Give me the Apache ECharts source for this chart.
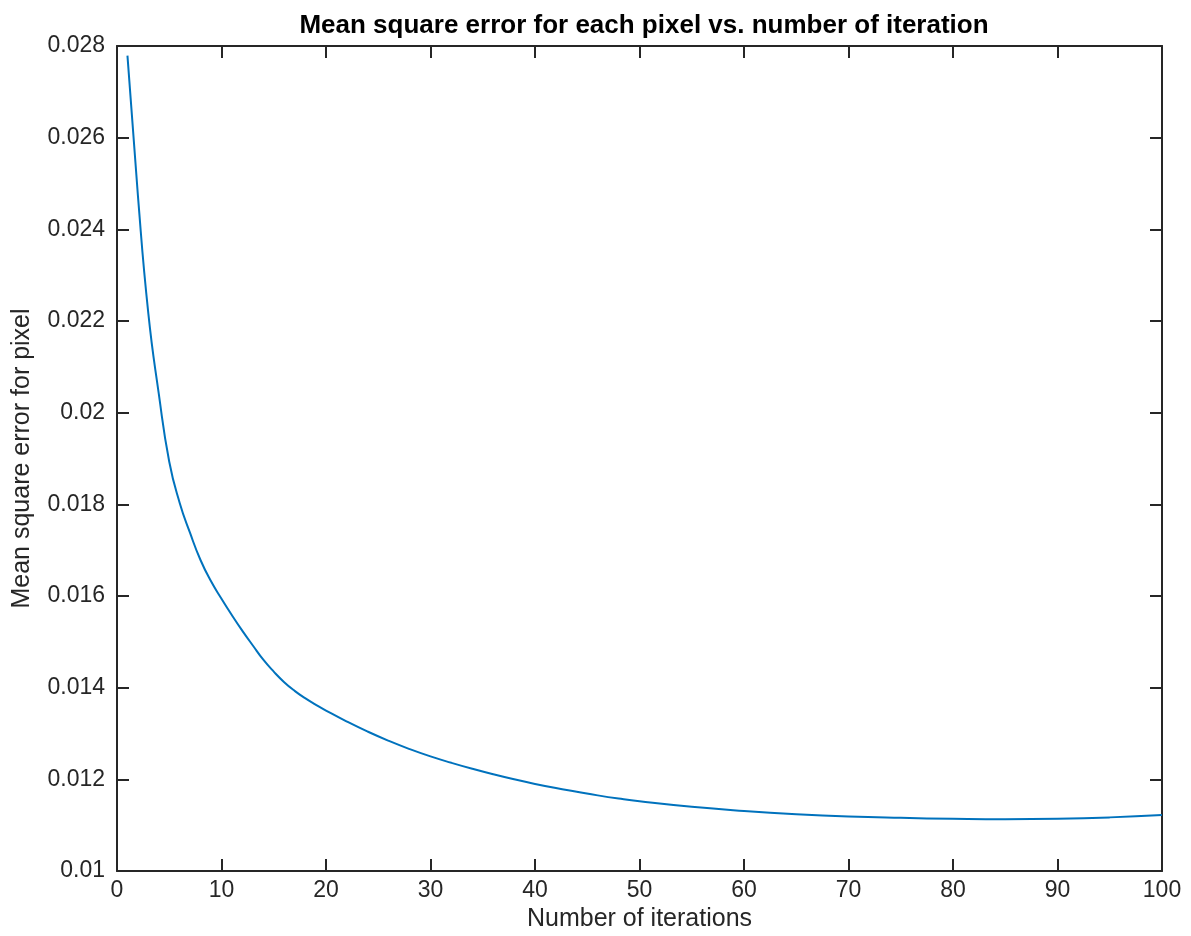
<!DOCTYPE html>
<html>
<head>
<meta charset="utf-8">
<title>Mean square error</title>
<script src="https://cdn.jsdelivr.net/npm/echarts@6/dist/echarts.min.js"></script>
<style>
  html, body { margin: 0; padding: 0; background: #fff; }
  #chart { width: 1191px; height: 936px; }
</style>
</head>
<body>
<div id="chart"></div>
<script>
// iteration numbers and the error
const iterations = [1, 2, 3, 4, 5, 6, 7, 8, 9, 10,
  11, 12, 13, 14, 15, 16, 17, 18, 19, 20,
  22, 24, 26, 28, 30, 32, 34, 36, 38, 40,
  42, 44, 46, 48, 50, 55, 60, 65, 70, 75,
  80, 85, 90, 95, 100];
const mse = [0.02779, 0.02474, 0.02216, 0.02041, 0.01893, 0.01803, 0.01737, 0.01678, 0.01632, 0.01594,
  0.01558, 0.01524, 0.01492, 0.01461, 0.01435, 0.01412, 0.01393, 0.01377, 0.01363, 0.01350,
  0.01326, 0.01304, 0.01284, 0.01266, 0.01250, 0.01236, 0.01223, 0.01211, 0.01200, 0.01190,
  0.01181, 0.01173, 0.01165, 0.01158, 0.01152, 0.01140, 0.01131, 0.01124, 0.01119, 0.01116,
  0.01114, 0.01113, 0.01114, 0.01117, 0.01122];
const xTicks = [0, 100, 10];
const yTicks = [0.01, 0.028, 0.002];

const axisColor = "#262626";
const fontFamily = "Liberation Sans, Arial, Helvetica, sans-serif";

const chart = echarts.init(document.getElementById("chart"));

// 坐标轴通用样式（MATLAB风格，刻度朝内）
function axisBase(extra) {
  return Object.assign({
    type: "value",
    axisLine: { show: true, onZero: false, lineStyle: { color: axisColor, width: 2 } },
    axisTick: { show: true, inside: true, length: 12, lineStyle: { color: axisColor, width: 2 } },
    splitLine: { show: false },
  }, extra);
}

chart.setOption({
  animation: false,
  backgroundColor: "#fff",
  title: {
    text: "Mean square error for each pixel vs. number of iteration",
    left: 639,
    top: 8,
    textAlign: "center",
    textStyle: { fontFamily: fontFamily, fontSize: 26, fontWeight: "bold", color: "#000" },
  },
  grid: { left: 117, right: 29, top: 46, bottom: 65, containLabel: false, outerBoundsMode: "none" },
  xAxis: [
    axisBase({
      position: "bottom",
      min: xTicks[0], max: xTicks[1], interval: xTicks[2],
      name: "Number of iterations",
      nameLocation: "middle",
      nameGap: 35,
      nameTextStyle: { fontFamily: fontFamily, fontSize: 25, color: axisColor },
      axisLabel: { fontFamily: fontFamily, fontSize: 23, color: axisColor, margin: 8 },
    }),
    axisBase({
      position: "top",
      min: xTicks[0], max: xTicks[1], interval: xTicks[2],
      axisLabel: { show: false },
    }),
  ],
  yAxis: [
    axisBase({
      position: "left",
      min: yTicks[0], max: yTicks[1], interval: yTicks[2],
      name: "Mean square error for pixel",
      nameLocation: "middle",
      nameGap: 82,
      nameTextStyle: { fontFamily: fontFamily, fontSize: 25, color: axisColor },
      axisLabel: {
        fontFamily: fontFamily, fontSize: 23, color: axisColor, margin: 12,
        formatter: (v) => String(+v.toFixed(3)),
      },
    }),
    axisBase({
      position: "right",
      min: yTicks[0], max: yTicks[1], interval: yTicks[2],
      axisLabel: { show: false },
    }),
  ],
  series: [{
    type: "line",
    data: iterations.map((x, i) => [x, mse[i]]),
    smooth: 0.5,
    showSymbol: false,
    lineStyle: { color: "#0072BD", width: 2 },
  }],
});
</script>
</body>
</html>
